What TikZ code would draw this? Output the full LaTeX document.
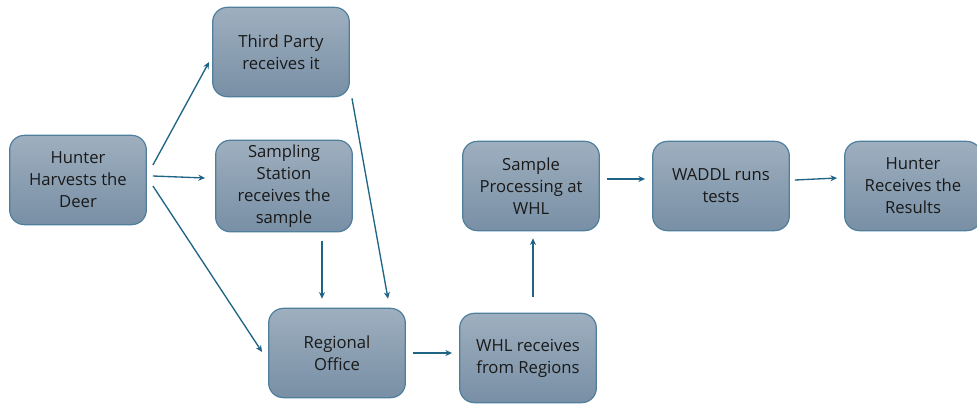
\documentclass[tikz,border=0pt]{standalone}
\usepackage{fontspec}
\setmainfont{Open Sans}
\usetikzlibrary{positioning,calc,arrows.meta}
\definecolor{boxtop}{HTML}{9EAFBF}
\definecolor{boxbot}{HTML}{788FA5}
\definecolor{boxline}{HTML}{4F7F9C}
\definecolor{arrowcol}{HTML}{1F6484}
\tikzstyle{box}=[rectangle, rounded corners=11pt, draw=boxline, line width=0.9pt, top color=boxtop, bottom color=boxbot, minimum width=102.5pt, minimum height=67pt, align=center, font=\fontsize{12.5}{16.5}\selectfont, text=black!90]
\tikzstyle{link}=[draw=arrowcol, line width=1pt, -{Stealth[length=5pt,width=4.5pt]}]

\begin{document}
\begin{tikzpicture}[x=0.75pt,y=-0.75pt]
	\useasboundingbox (0,0) rectangle (977,404);
	\node[box] (hunter) at (78,180) {Hunter\\Harvests the\\Deer};
	\node[box] (third) at (281,52) {Third Party\\receives it};
	\node[box] (sampling) at (284,186) {Sampling\\Station\\receives the\\sample};
	\node[box] (regional) at (337,353) {Regional\\Office};
	\node[box] (whl) at (528,358) {WHL receives\\from Regions};
	\node[box] (proc) at (531,186) {Sample\\Processing at\\WHL};
	\node[box] (waddl) at (721,186) {WADDL runs\\tests};
	\node[box] (result) at (913,186) {Hunter\\Receives the\\Results};
	\draw[link] ($(hunter.east)+(6,-15)$) -- ($(third.west)+(-3,10)$);
	\draw[link] ($(hunter.east)+(6,-4)$) -- ($(sampling.west)+(-10,-8)$);
	\draw[link] ($(hunter.east)+(6,6)$) -- ($(regional.west)+(-6,-1)$);
	\draw[link] ($(third.south east)+(2,1)$) -- ($(regional.north)+(51,-9)$);
	\draw[link] ($(sampling.south)+(38,9)$) -- ($(regional.north)+(-15,-9)$);
	\draw[link] ($(regional.east)+(7,0)$) -- ($(whl.west)+(-7,-5)$);
	\draw[link] ($(whl.north)+(5,-16)$) -- ($(proc.south)+(2,7)$);
	\draw[link] ($(proc.east)+(7,-7)$) -- ($(waddl.west)+(-7,-7)$);
	\draw[link] ($(waddl.east)+(5,-6)$) -- ($(result.west)+(-7,-8)$);
\end{tikzpicture}
\end{document}
